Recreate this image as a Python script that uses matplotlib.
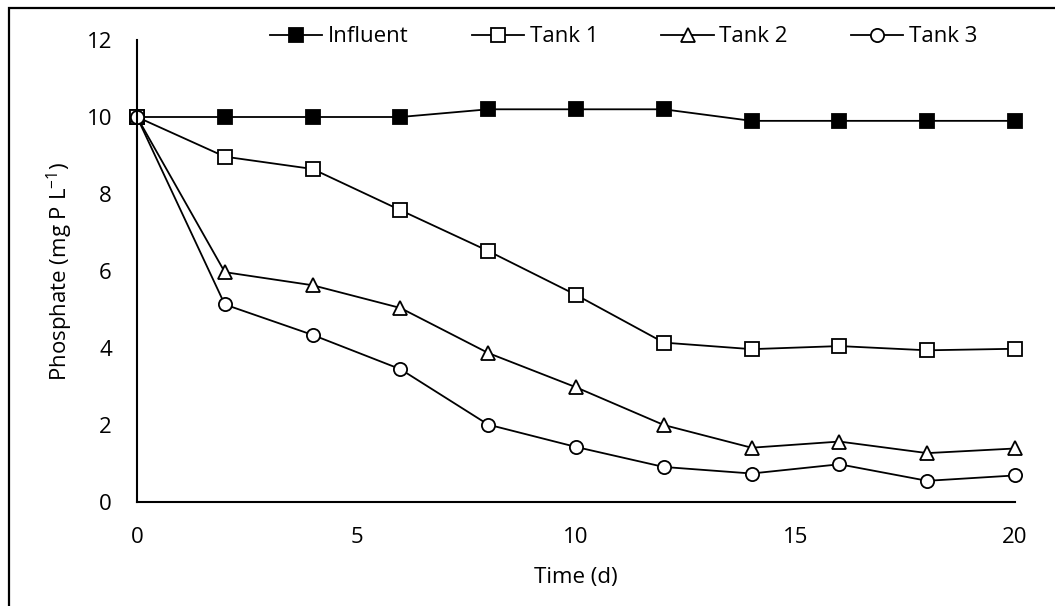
import matplotlib
matplotlib.use("Agg")
import matplotlib.pyplot as plt
from matplotlib.patches import Rectangle

# Sampling days
days = [0, 2, 4, 6, 8, 10, 12, 14, 16, 18, 20]

# Phosphate concentrations (mg P/L)
influent = [10.0, 10.0, 10.0, 10.0, 10.2, 10.2, 10.2, 9.9, 9.9, 9.9, 9.9]
tank1 = [10.0, 8.97, 8.65, 7.58, 6.52, 5.38, 4.14, 3.97, 4.05, 3.94, 3.98]
tank2 = [10.0, 5.97, 5.63, 5.04, 3.87, 2.98, 2.00, 1.41, 1.57, 1.27, 1.39]
tank3 = [10.0, 5.13, 4.34, 3.45, 2.01, 1.43, 0.91, 0.74, 0.98, 0.55, 0.69]

series_labels = ["Influent", "Tank 1", "Tank 2", "Tank 3"]
x_ticks = [0, 5, 10, 15, 20]
y_ticks = [0, 2, 4, 6, 8, 10, 12]

plt.rcParams["font.family"] = ["Open Sans", "DejaVu Sans"]
plt.rcParams["mathtext.fontset"] = "custom"
plt.rcParams["mathtext.rm"] = "Open Sans"
plt.rcParams["mathtext.it"] = "Open Sans"

FS = 16
W, H = 1055, 606
fig = plt.figure(figsize=(W / 100, H / 100), dpi=100)
fig.patch.set_facecolor("white")

# Outer chart frame
fig.patches.append(Rectangle((9 / W, -0.1), 1.2, 1 - 8 / H + 0.1,
                             transform=fig.transFigure, fill=False,
                             edgecolor="black", linewidth=1.6, zorder=0))

ax = fig.add_axes([137 / W, 1 - 502 / H, (1015 - 137) / W, (502 - 40) / H])

styles = [
    dict(marker="s", markerfacecolor="black", markersize=9.5),
    dict(marker="s", markerfacecolor="white", markersize=9.5),
    dict(marker="^", markerfacecolor="white", markersize=10),
    dict(marker="o", markerfacecolor="white", markersize=9.5),
]
for vals, lab, st in zip([influent, tank1, tank2, tank3], series_labels, styles):
    ax.plot(days, vals, color="black", linewidth=1.3, markeredgecolor="black",
            markeredgewidth=1.3, label=lab, clip_on=False, **st)

ax.set_xlim(0, 20)
ax.set_ylim(0, 12)
ax.set_xticks(x_ticks)
ax.set_yticks(y_ticks)
ax.tick_params(axis="both", length=0, labelsize=FS)
ax.tick_params(axis="y", pad=18)
ax.tick_params(axis="x", pad=18)
for side in ("top", "right"):
    ax.spines[side].set_visible(False)
for side in ("left", "bottom"):
    ax.spines[side].set_linewidth(1.5)

ax.set_xlabel("Time (d)", fontsize=FS, labelpad=14)
ax.set_ylabel(r"Phosphate (mg P L$^{-1}$)", fontsize=FS, labelpad=8)

fig.legend(loc="center left", bbox_to_anchor=(270 / W, 1 - 37 / H),
           ncol=4, frameon=False, fontsize=FS, handlelength=2.35,
           handletextpad=0.25, columnspacing=2.85, borderpad=0,
           borderaxespad=0)

fig.savefig("out.png", dpi=100, facecolor="white")
